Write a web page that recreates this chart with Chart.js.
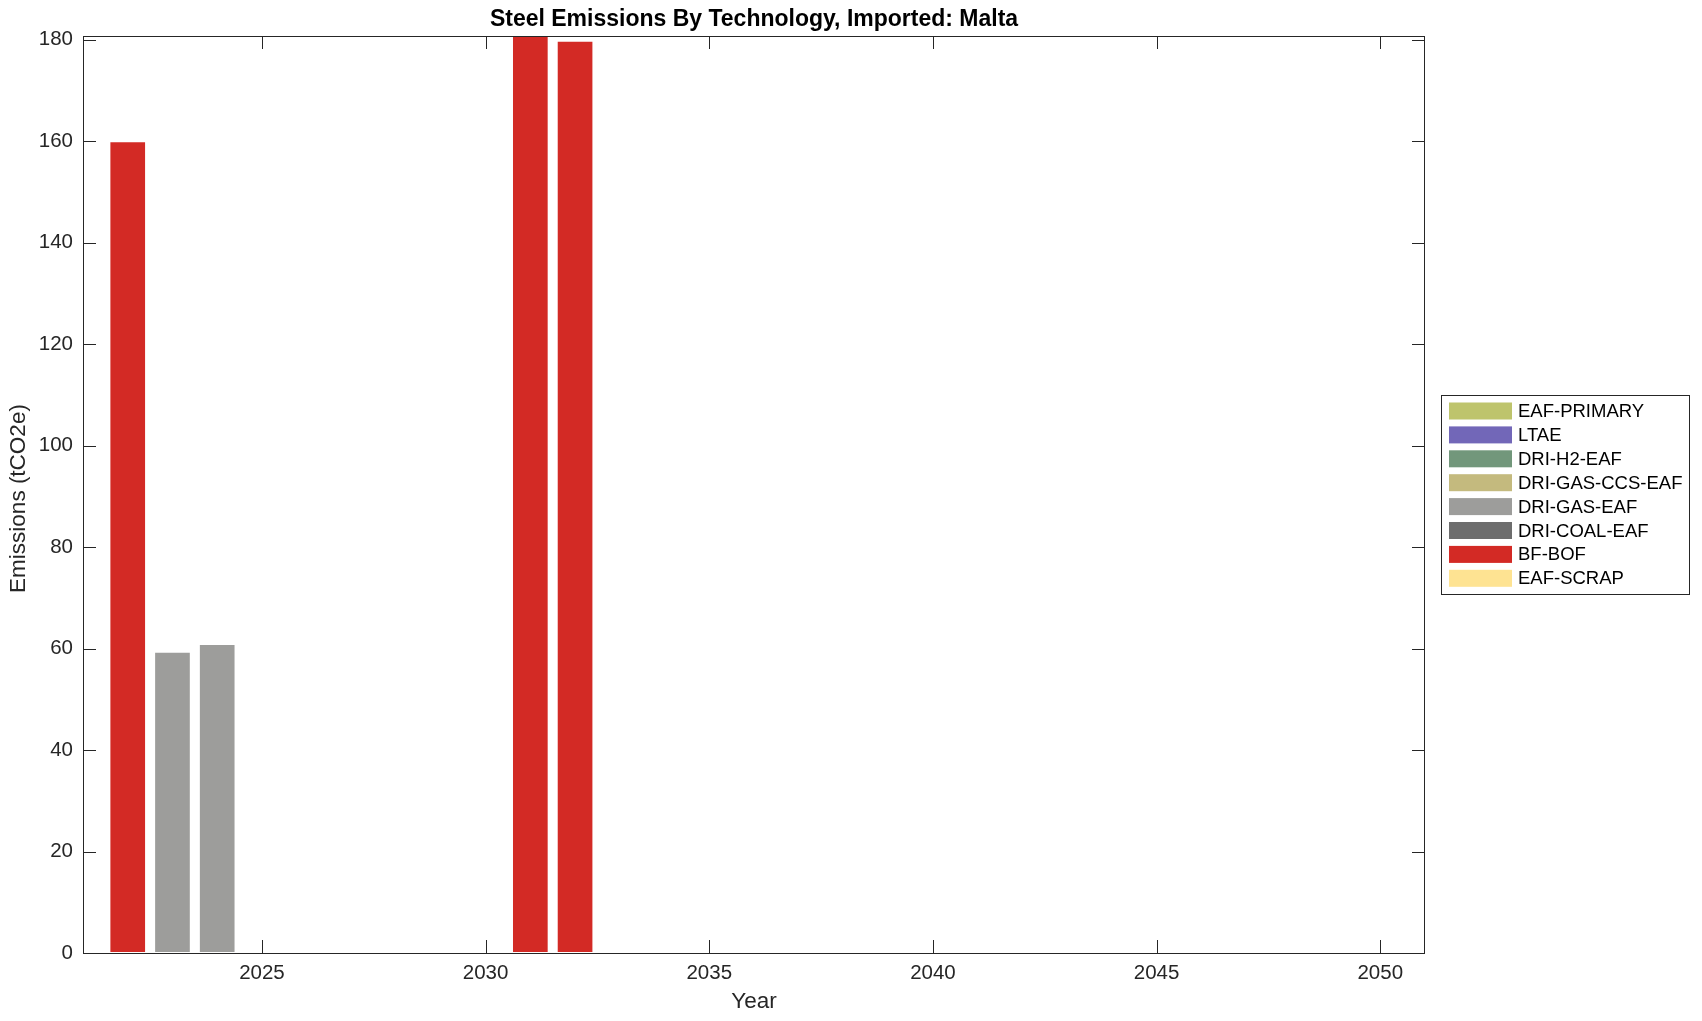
<!DOCTYPE html>
<html>
<head>
<meta charset="utf-8">
<script src="https://cdn.jsdelivr.net/npm/chart.js@4/dist/chart.umd.min.js"></script>
<style>
  html, body { margin: 0; padding: 0; background: #fff; }
  #wrap { width: 1702px; height: 1021px; }
</style>
</head>
<body>
<div id="wrap"><canvas id="chart" width="1702" height="1021"></canvas></div>
<script>
// 数据
const years = [2022, 2023, 2024, 2025, 2026, 2027, 2028, 2029, 2030, 2031, 2032];
const eafPrimary   = [0, 0, 0, 0, 0, 0, 0, 0, 0, 0, 0];
const ltae         = [0, 0, 0, 0, 0, 0, 0, 0, 0, 0, 0];
const driH2Eaf     = [0, 0, 0, 0, 0, 0, 0, 0, 0, 0, 0];
const driGasCcsEaf = [0, 0, 0, 0, 0, 0, 0, 0, 0, 0, 0];
const driGasEaf    = [0, 59.4, 60.9, 0, 0, 0, 0, 0, 0, 0, 0];
const driCoalEaf   = [0, 0, 0, 0, 0, 0, 0, 0, 0, 0, 0];
const bfBof        = [160, 0, 0, 0, 0, 0, 0, 0, 0, 180.8, 179.8];
const eafScrap     = [0, 0, 0, 0, 0, 0, 0, 0, 0, 0, 0];

const xTicks = [2025, 2030, 2035, 2040, 2045, 2050];
const yTicks = [0, 20, 40, 60, 80, 100, 120, 140, 160, 180];

const series = [
    { label: 'EAF-PRIMARY',     data: eafPrimary,   color: '#bec46c' },
    { label: 'LTAE',            data: ltae,         color: '#7267b8' },
    { label: 'DRI-H2-EAF',      data: driH2Eaf,     color: '#72977b' },
    { label: 'DRI-GAS-CCS-EAF', data: driGasCcsEaf, color: '#c4ba7e' },
    { label: 'DRI-GAS-EAF',     data: driGasEaf,    color: '#9d9d9b' },
    { label: 'DRI-COAL-EAF',    data: driCoalEaf,   color: '#6d6d6d' },
    { label: 'BF-BOF',          data: bfBof,        color: '#d32a25' },
    { label: 'EAF-SCRAP',       data: eafScrap,     color: '#fee392' }
];

const FONT = "'Liberation Sans', Arial, Helvetica, sans-serif";
const TXT = '#262626';

// 坐标框、内侧刻度、标题、图例
const decorPlugin = {
    id: 'decor',
    afterDraw(chart) {
        const ctx = chart.ctx;
        const a = chart.chartArea;
        const xs = chart.scales.x, ys = chart.scales.y;
        ctx.save();
        ctx.strokeStyle = TXT;
        ctx.lineWidth = 1;
        ctx.strokeRect(a.left + 0.5, a.top + 0.5, a.right - a.left - 1, a.bottom - a.top);
        ctx.beginPath();
        const tl = 13;
        xTicks.forEach(v => {
            const px = Math.round(xs.getPixelForValue(v)) + 0.5;
            ctx.moveTo(px, a.bottom); ctx.lineTo(px, a.bottom - tl);
            ctx.moveTo(px, a.top); ctx.lineTo(px, a.top + tl);
        });
        yTicks.forEach(v => {
            const py = Math.round(ys.getPixelForValue(v)) + 0.5;
            ctx.moveTo(a.left, py); ctx.lineTo(a.left + tl, py);
            ctx.moveTo(a.right, py); ctx.lineTo(a.right - tl, py);
        });
        ctx.stroke();

        // 标题
        const cx = (a.left + a.right) / 2;
        ctx.fillStyle = '#000';
        ctx.font = 'bold 23px ' + FONT;
        ctx.textAlign = 'center';
        ctx.textBaseline = 'middle';
        ctx.fillText('Steel Emissions By Technology, Imported: Malta', cx, 20);

        // 坐标轴标题
        ctx.fillStyle = TXT;
        ctx.font = '22.5px ' + FONT;
        ctx.fillText('Year', cx, 1002);
        ctx.save();
        ctx.translate(19, (a.top + a.bottom) / 2 + 4);
        ctx.rotate(-Math.PI / 2);
        ctx.fillText('Emissions (tCO2e)', 0, 0);
        ctx.restore();

        // 图例
        const lx = 1441, ly = 395, lw = 248, lh = 199;
        ctx.fillStyle = '#fff';
        ctx.fillRect(lx, ly, lw, lh);
        ctx.strokeStyle = TXT;
        ctx.strokeRect(lx + 0.5, ly + 0.5, lw, lh);
        ctx.font = '18.5px ' + FONT;
        ctx.textAlign = 'left';
        series.forEach((s, i) => {
            const cy = 411 + i * 23.9;
            ctx.fillStyle = s.color;
            ctx.fillRect(1449, cy - 8.5, 63, 17);
            ctx.fillStyle = '#000';
            ctx.fillText(s.label, 1518, cy + 1);
        });
        ctx.restore();
    }
};

new Chart(document.getElementById('chart').getContext('2d'), {
    type: 'bar',
    data: {
        datasets: series.map(s => ({
            label: s.label,
            data: years.map((yr, i) => ({ x: yr, y: s.data[i] })),
            backgroundColor: s.color,
            borderColor: 'rgba(255,255,255,0.55)',
            borderWidth: c => (c.raw && c.raw.y > 0 ? 1 : 0),
            borderSkipped: false,
            barPercentage: 0.82,
            categoryPercentage: 1.0
        }))
    },
    options: {
        responsive: false,
        devicePixelRatio: 1,
        animation: false,
        layout: { padding: { top: 36, right: 277, left: 0, bottom: 0 } },
        plugins: {
            legend: { display: false },
            title: { display: false },
            tooltip: { enabled: false }
        },
        scales: {
            x: {
                type: 'linear',
                stacked: true,
                min: 2021,
                max: 2051,
                offset: false,
                grid: { display: false, drawTicks: false },
                border: { display: false },
                afterBuildTicks: sc => { sc.ticks = xTicks.map(v => ({ value: v })); },
                afterFit: sc => { sc.height = 68; },
                ticks: {
                    padding: 8,
                    maxRotation: 0,
                    color: TXT,
                    font: { family: FONT, size: 20.5 },
                    callback: v => String(v)
                }
            },
            y: {
                stacked: true,
                min: 0,
                max: 180.75,
                grid: { display: false, drawTicks: false },
                border: { display: false },
                afterBuildTicks: sc => { sc.ticks = yTicks.map(v => ({ value: v })); },
                afterFit: sc => { sc.width = 83; },
                ticks: {
                    padding: 10,
                    color: TXT,
                    font: { family: FONT, size: 20.5 },
                    callback: v => String(v)
                }
            }
        }
    },
    plugins: [decorPlugin]
});
</script>
</body>
</html>
